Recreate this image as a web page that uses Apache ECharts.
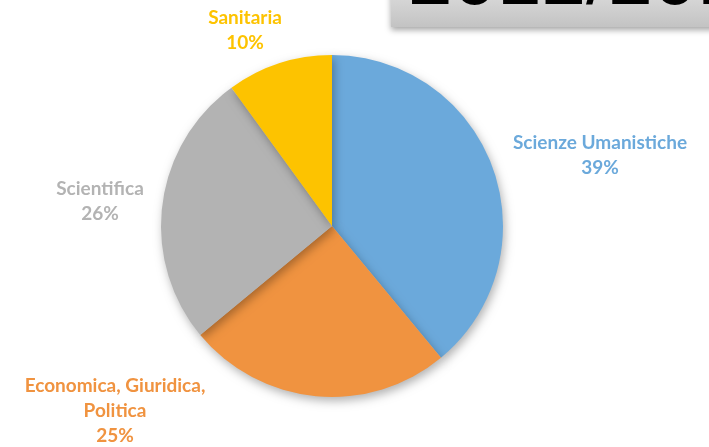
<!DOCTYPE html>
<html><head><meta charset="utf-8">
<script src="https://cdn.jsdelivr.net/npm/echarts@6/dist/echarts.min.js"></script>
<style>html,body{margin:0;padding:0;background:#fff}#c{width:709px;height:447px}</style>
</head><body><div id="c"></div>
<script>
const categories = ['Scienze Umanistiche', 'Economica, Giuridica,\nPolitica', 'Scientifica', 'Sanitaria'];
const values = [39, 25, 26, 10];
const colors = ['#6ba9db', '#f09340', '#b3b3b3', '#fdc300'];
const labelPos = [[600, 155], [115, 411], [100, 201], [245, 30]];
const titleText = '2012/2013';

const chart = echarts.init(document.getElementById('c'));
chart.setOption({
  animation: false,
  graphic: [
    { type: 'rect', shape: { x: 391, y: -10, width: 340, height: 37 },
      style: { fill: new echarts.graphic.LinearGradient(0, 0, 0, 1, [{offset: 0, color: '#dcdcdc'}, {offset: 1, color: '#c3c3c3'}]),
               shadowBlur: 6, shadowColor: 'rgba(0,0,0,0.35)', shadowOffsetY: 3 } },
    { type: 'text', left: 408, top: -58,
      style: { text: titleText, fill: '#000', font: '80px "Liberation Sans", Arial, sans-serif' } }
  ],
  series: [{
    type: 'pie',
    center: [332, 226],
    radius: 171,
    startAngle: 90,
    clockwise: true,
    data: categories.map((n, i) => ({ name: n, value: values[i], itemStyle: { color: colors[i] } })),
    itemStyle: { shadowBlur: 10, shadowColor: 'rgba(0,0,0,0.3)', shadowOffsetY: 4, shadowOffsetX: 2 },
    label: {
      show: true, position: 'outside', overflow: 'none', bleedMargin: 0,
      formatter: p => p.name + '\n' + p.value + '%',
      fontFamily: 'Lato', fontWeight: 'bold', fontSize: 19, lineHeight: 25,
      align: 'center', color: 'inherit'
    },
    labelLine: { show: false },
    labelLayout: p => ({ x: labelPos[p.dataIndex][0], y: labelPos[p.dataIndex][1], align: 'center', verticalAlign: 'middle' })
  }]
});
</script></body></html>
